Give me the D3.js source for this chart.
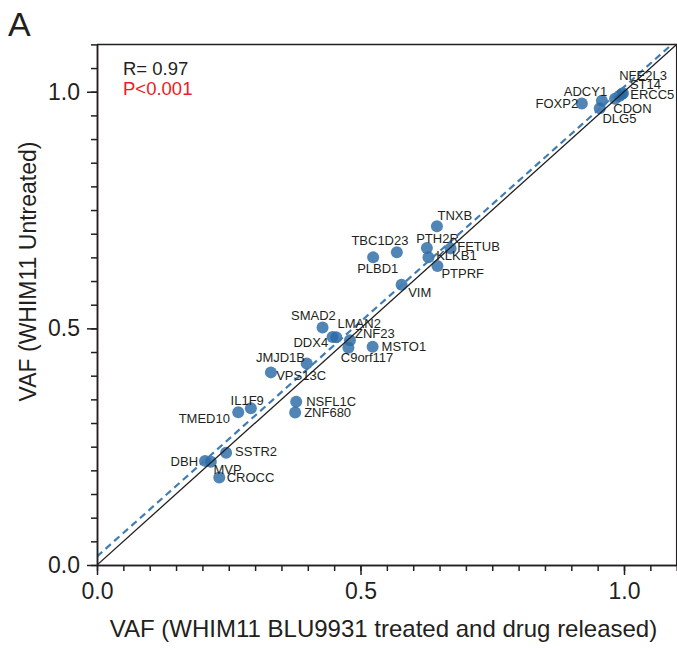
<!DOCTYPE html>
<html>
<head>
<meta charset="utf-8">
<script src="https://cdn.jsdelivr.net/npm/d3@7"></script>
<style>
  html, body { margin: 0; padding: 0; background: #fff; }
  svg { display: block; font-family: "Liberation Sans", Arial, sans-serif; }
</style>
</head>
<body>
<svg id="chart" width="677" height="650"></svg>
<script>
// Variant allele frequencies per gene
const genes = ["FOXP2","ADCY1","DLG5","CDON","ERCC5","ST14","NFE2L3",
  "TNXB","TBC1D23","PLBD1","PTH2R","FETUB","KLKB1","PTPRF","VIM",
  "SMAD2","LMAN2","DDX4","ZNF23","C9orf117","MSTO1","JMJD1B","VPS13C",
  "NSFL1C","ZNF680","IL1F9","TMED10","SSTR2","DBH","MVP","CROCC"];
const vafTreated = [0.920,0.958,0.954,0.983,0.991,0.996,0.998,
  0.645,0.569,0.524,0.626,0.671,0.629,0.646,0.578,
  0.428,0.454,0.447,0.480,0.477,0.523,0.398,0.330,
  0.378,0.376,0.292,0.268,0.245,0.205,0.216,0.232];
const vafUntreated = [0.975,0.981,0.965,0.985,0.991,0.995,0.997,
  0.716,0.661,0.650,0.670,0.669,0.650,0.632,0.592,
  0.502,0.481,0.482,0.475,0.459,0.461,0.426,0.407,
  0.345,0.322,0.331,0.323,0.237,0.220,0.218,0.185];

const majorTicks = [0.0, 0.5, 1.0];
const minorTicks = d3.range(0, 1.1001, 0.05);
const axisMax = 1.1;

// Linear fit of untreated vs treated
const fitIntercept = 0.018;
const fitSlope = 0.992;
const statR = "R= 0.97";
const statP = "P<0.001";

const xTitle = "VAF (WHIM11 BLU9931 treated and drug released)";
const yTitle = "VAF (WHIM11 Untreated)";
const panelLetter = "A";

// Label placement relative to each point: [dx, dy, anchor]
const labelLayout = {
  FOXP2: [-3.7, 4.7, "end"], ADCY1: [5.3, -4.7, "end"], DLG5: [2.7, 15],
  CDON: [-1.7, 13.7], ERCC5: [11, 3.3], ST14: [8, -4.7], NFE2L3: [-3.7, -13],
  TNXB: [0.6, -6], TBC1D23: [11.6, -7.3, "end"], PLBD1: [-16, 16],
  PTH2R: [-10.7, -5.4], FETUB: [6.6, 2.7], KLKB1: [7.7, 2.7],
  PTPRF: [4, 12], VIM: [6.6, 11.7], SMAD2: [13.3, -7, "end"],
  LMAN2: [1.3, -9], DDX4: [-4.4, 10, "end"], ZNF23: [5, -1.7],
  "C9orf117": [-7.6, 14.6], MSTO1: [9, 4], JMJD1B: [-1.7, -1.6, "end"],
  VPS13C: [5.3, 7.7], NSFL1C: [10, 4.3], ZNF680: [9, 4],
  IL1F9: [-20.3, -3.3], TMED10: [-8.3, 11, "end"], SSTR2: [9, 3.3],
  DBH: [-7, 5.3, "end"], MVP: [2.6, 12.3], CROCC: [7.4, 4.4]
};

const ink = "#231f20";
const pointFill = "#2a6aa5";
const fitColor = "#3f7db3";

const svg = d3.select("#chart");
const plotLeft = 97, plotRight = 676.7, plotTop = 44.4, plotBottom = 565;

const x = d3.scaleLinear().domain([0, axisMax]).range([plotLeft, plotRight]);
const y = d3.scaleLinear().domain([0, axisMax]).range([plotBottom, plotTop]);

const points = genes.map((g, i) => ({ gene: g, tx: vafTreated[i], ut: vafUntreated[i] }));

svg.append("defs").append("clipPath").attr("id", "plotClip")
  .append("rect").attr("x", plotLeft).attr("y", plotTop)
  .attr("width", plotRight - plotLeft).attr("height", plotBottom - plotTop);

// Points
svg.append("g").selectAll("circle").data(points).join("circle")
  .attr("cx", d => x(d.tx)).attr("cy", d => y(d.ut)).attr("r", 6)
  .attr("fill", pointFill).attr("fill-opacity", 0.82);

// Reference lines
const lines = svg.append("g").attr("clip-path", "url(#plotClip)");
lines.append("line")
  .attr("x1", x(0)).attr("y1", y(0)).attr("x2", x(axisMax)).attr("y2", y(axisMax))
  .attr("stroke", ink).attr("stroke-width", 1.3);
lines.append("line")
  .attr("x1", x(0)).attr("y1", y(fitIntercept))
  .attr("x2", x(axisMax)).attr("y2", y(fitIntercept + fitSlope * axisMax))
  .attr("stroke", fitColor).attr("stroke-width", 2.2)
  .attr("stroke-dasharray", "7,4.5");

// Gene labels
svg.append("g").selectAll("text").data(points).join("text")
  .attr("x", d => x(d.tx) + (labelLayout[d.gene] || [8, 4])[0])
  .attr("y", d => y(d.ut) + (labelLayout[d.gene] || [8, 4])[1])
  .attr("text-anchor", d => (labelLayout[d.gene] || [])[2] || "start")
  .attr("font-size", 13).attr("fill", ink)
  .text(d => d.gene);

// Frame
svg.append("path")
  .attr("d", `M${plotLeft},${plotTop}H${plotRight}V${plotBottom}`)
  .attr("fill", "none").attr("stroke", ink).attr("stroke-width", 1.5);

function styleAxis(g) {
  g.selectAll("path, line").attr("stroke", ink).attr("stroke-width", 1.5);
  g.selectAll("text").attr("fill", ink).attr("font-size", 23)
    .attr("font-family", "Liberation Sans, Arial, sans-serif");
}

// X axis
svg.append("g").attr("transform", `translate(0,${plotBottom})`)
  .call(d3.axisBottom(x).tickValues(minorTicks).tickSize(6).tickSizeOuter(0).tickFormat(""))
  .call(styleAxis);
svg.append("g").attr("transform", `translate(0,${plotBottom})`)
  .call(d3.axisBottom(x).tickValues(majorTicks).tickSize(10).tickSizeOuter(0)
    .tickPadding(8).tickFormat(d3.format(".1f")))
  .call(styleAxis);

// Y axis
svg.append("g").attr("transform", `translate(${plotLeft},0)`)
  .call(d3.axisLeft(y).tickValues(minorTicks).tickSize(6).tickSizeOuter(0).tickFormat(""))
  .call(styleAxis);
svg.append("g").attr("transform", `translate(${plotLeft},0)`)
  .call(d3.axisLeft(y).tickValues(majorTicks).tickSize(10).tickSizeOuter(0)
    .tickPadding(7).tickFormat(d3.format(".1f")))
  .call(styleAxis);

// Axis titles
svg.append("text").attr("x", 383.5).attr("y", 637)
  .attr("text-anchor", "middle").attr("font-size", 24).attr("fill", ink)
  .text(xTitle);
svg.append("text").attr("transform", "translate(36,271.5) rotate(-90)")
  .attr("text-anchor", "middle").attr("font-size", 23).attr("fill", ink)
  .text(yTitle);

// Panel letter
svg.append("text").attr("x", 8).attr("y", 36)
  .attr("font-size", 34).attr("fill", ink).text(panelLetter);

// Correlation statistics
svg.append("text").attr("x", 123).attr("y", 75)
  .attr("font-size", 18.5).attr("fill", ink).text(statR);
svg.append("text").attr("x", 123).attr("y", 95)
  .attr("font-size", 18.5).attr("fill", "#ec1c24").text(statP);
</script>
</body>
</html>
